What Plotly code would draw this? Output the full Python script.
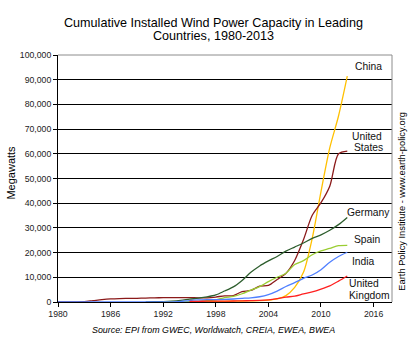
import plotly.graph_objects as go

# Installed wind capacity, megawatts, by year
years = list(range(1980, 2014))

china = [None] * 15 + [40, 80, 170, 220, 270, 350, 400, 470, 570, 760,
                       1260, 2600, 5900, 12000, 25800, 44700, 62400, 75300, 91400]
united_states = [0, 10, 50, 150, 550, 950, 1250, 1400, 1450, 1500,
                 1600, 1700, 1750, 1800, 1750, 1770, 1700, 1700, 2000, 2500,
                 2600, 4200, 4700, 6400, 6700, 9100, 11600, 16800, 25200, 35100,
                 40200, 46900, 60000, 61100]
germany = [None] * 10 + [60, 110, 180, 330, 640, 1130, 1550, 2080, 2880, 4440,
                         6110, 8750, 12000, 14600, 16630, 18430, 20620, 22250, 23900, 25780,
                         27210, 29060, 31330, 34250]
spain = [None] * 12 + [50, 60, 75, 115, 250, 510, 830, 1810,
                       2240, 3340, 4830, 6200, 8260, 10030, 11620, 15150, 16740, 19150,
                       20680, 21670, 22800, 22960]
india = [0] * 11 + [40, 40, 80, 200, 580, 820, 940, 990, 1040,
                    1220, 1460, 1700, 2130, 3000, 4430, 6270, 7850, 9590, 10930,
                    13070, 16080, 18420, 20150]
united_kingdom = [None] * 15 + [200, 270, 330, 330, 360,
                                410, 470, 550, 670, 900, 1350, 1960, 2390, 3290, 4070,
                                5200, 6540, 8450, 10530]

x_ticks = [1980, 1986, 1992, 1998, 2004, 2010, 2016]
y_ticks = list(range(0, 100001, 10000))

series = [
    ("China", china, "#FFC000"),
    ("United States", united_states, "#8B1A1A"),
    ("Germany", germany, "#2E5E2E"),
    ("Spain", spain, "#9ACD32"),
    ("India", india, "#4F7FFF"),
    ("United Kingdom", united_kingdom, "#FF2020"),
]

FONT = "Liberation Sans, Arial, sans-serif"

fig = go.Figure()
for name, vals, color in series:
    fig.add_trace(go.Scatter(
        x=years, y=vals, name=name, mode="lines",
        line=dict(color=color, width=1.3, shape="spline", smoothing=0.8),
        connectgaps=False, showlegend=False,
    ))

# end-of-line country labels (one annotation per text line)
end_labels = [
    ("China", 2013.79, 95400),
    ("United", 2013.45, 67100),
    ("States", 2013.68, 62600),
    ("Germany", 2012.85, 36200),
    ("Spain", 2013.65, 25400),
    ("India", 2013.45, 16600),
    ("United", 2013.11, 7300),
    ("Kingdom", 2013.11, 2800),
]
annotations = []
for text, lx, ly in end_labels:
    annotations.append(dict(
        x=lx, y=ly, xref="x", yref="y", text=text, showarrow=False,
        xanchor="left", yanchor="middle", borderpad=0,
        font=dict(family=FONT, size=10.3, color="#111"),
    ))

annotations += [
    dict(x=0.467, y=1.1296, xref="paper", yref="paper", showarrow=False,
         text="Cumulative Installed Wind Power Capacity in Leading",
         xanchor="center", yanchor="middle", font=dict(family=FONT, size=12.6, color="#000")),
    dict(x=0.467, y=1.0769, xref="paper", yref="paper", showarrow=False,
         text="Countries, 1980-2013",
         xanchor="center", yanchor="middle", font=dict(family=FONT, size=12.6, color="#000")),
    dict(x=-0.1392, y=0.522, xref="paper", yref="paper", showarrow=False,
         text="Megawatts", textangle=-90,
         xanchor="center", yanchor="middle", font=dict(family=FONT, size=11, color="#000")),
    dict(x=0.467, y=-0.1134, xref="paper", yref="paper", showarrow=False,
         text="<i>Source: EPI from GWEC, Worldwatch, CREIA, EWEA, BWEA</i>",
         xanchor="center", yanchor="middle", font=dict(family=FONT, size=8.9, color="#000")),
    dict(x=1.029, y=0.409, xref="paper", yref="paper", showarrow=False,
         text="Earth Policy Institute - www.earth-policy.org", textangle=-90,
         xanchor="center", yanchor="middle", font=dict(family=FONT, size=9.3, color="#000")),
]

fig.update_layout(
    width=411, height=340,
    margin=dict(l=58, r=19, t=55, b=38),
    paper_bgcolor="white", plot_bgcolor="white",
    annotations=annotations,
    shapes=[
        dict(type="line", xref="paper", yref="paper", x0=0, x1=1, y0=1, y1=1,
             line=dict(color="#8C8C8C", width=1), layer="above"),
        dict(type="line", xref="paper", yref="paper", x0=1, x1=1, y0=0, y1=1,
             line=dict(color="#8C8C8C", width=1), layer="above"),
    ],
    xaxis=dict(
        range=[1980, 2018.1], tickvals=x_ticks, ticktext=[str(t) for t in x_ticks],
        showgrid=False, zeroline=False, showline=True, linecolor="#000", linewidth=1,
        ticks="outside", ticklen=4, tickcolor="#000",
        tickfont=dict(family=FONT, size=8.7, color="#222"),
    ),
    yaxis=dict(
        range=[0, 100000], tickvals=y_ticks, tickformat=",",
        showgrid=True, gridcolor="#000", gridwidth=1,
        zeroline=False, showline=True, linecolor="#000", linewidth=1,
        ticks="outside", ticklen=4, tickcolor="#000",
        tickfont=dict(family=FONT, size=8.7, color="#222"),
    ),
)

fig.write_html("out.html")
